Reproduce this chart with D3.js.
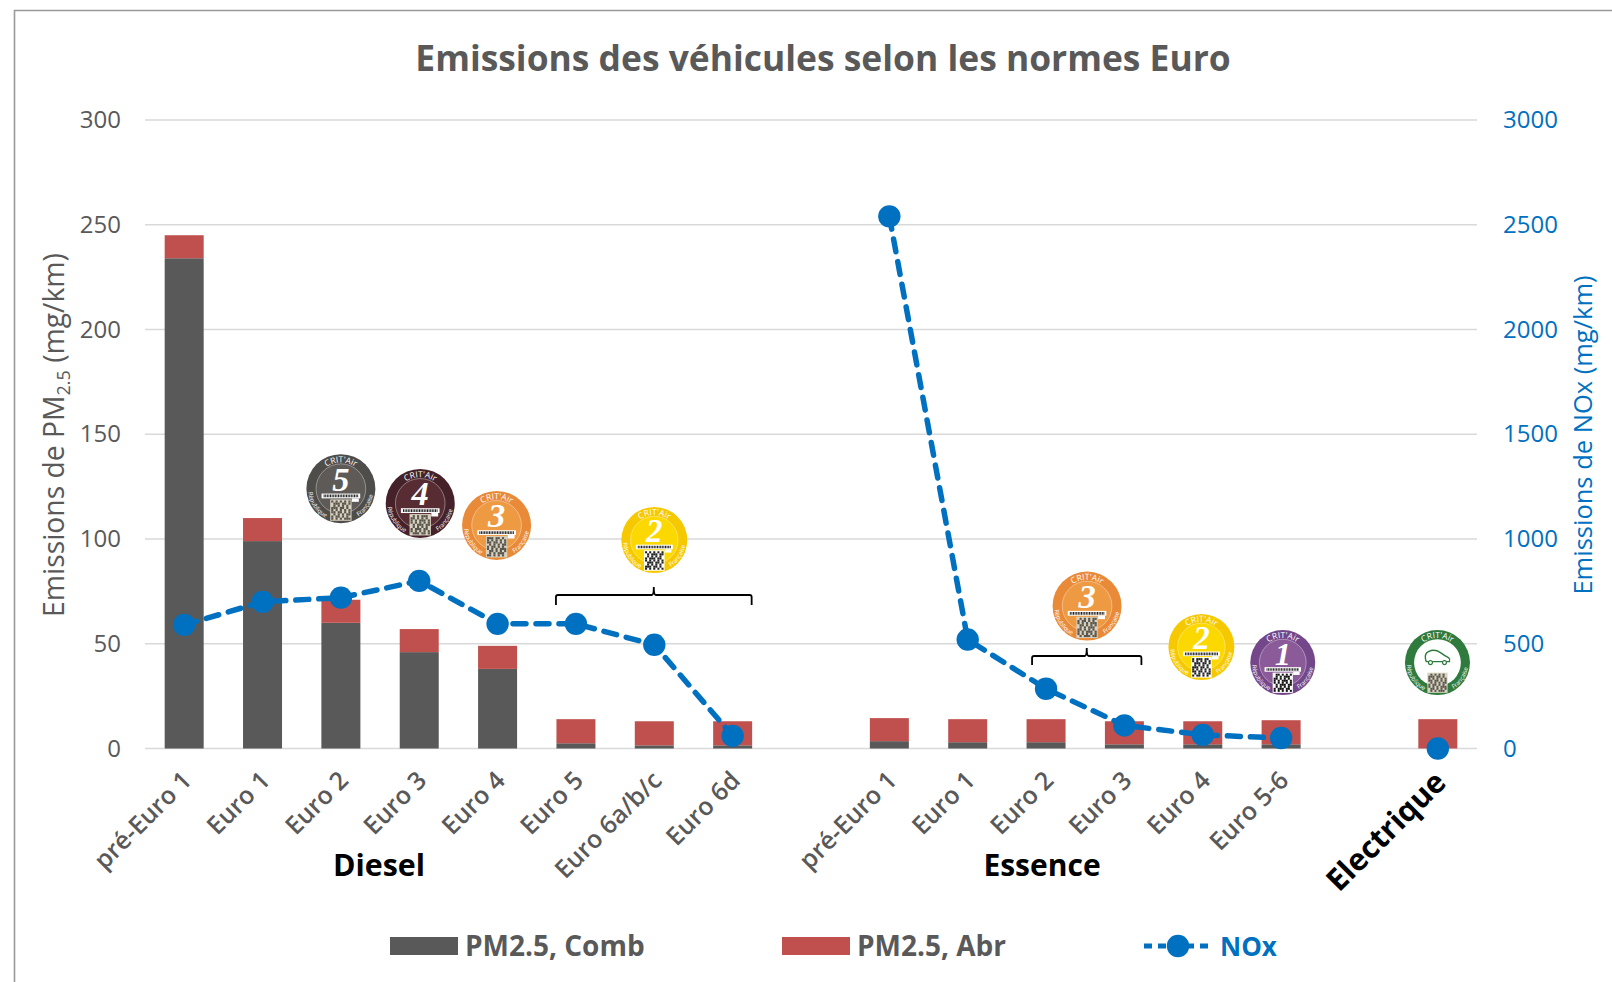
<!DOCTYPE html>
<html><head><meta charset="utf-8">
<script src="https://cdn.jsdelivr.net/npm/d3@7"></script>
<style>html,body{margin:0;padding:0;background:#fff}svg{display:block}text{font-family:"Open Sans",sans-serif}</style>
</head><body><svg id="c" width="1612" height="982"></svg>
<script>
const slots=["d0","d1","d2","d3","d4","d5","d6","d7","gap1","e0","e1","e2","e3","e4","e5","gap2","el"];
const tickLabels=["pré-Euro 1","Euro 1","Euro 2","Euro 3","Euro 4","Euro 5","Euro 6a/b/c","Euro 6d","","pré-Euro 1","Euro 1","Euro 2","Euro 3","Euro 4","Euro 5-6","",""];
const pmComb=[234,99,60,46,38,2.5,1.5,1.5,null,3.5,3,3,2,2,2,null,0];
const pmAbr=[11,11,11,11,11,11.5,11.5,11.5,null,11,11,11,11,11,11.5,null,14];
const nox=[590,700,720,800,595,595,495,60,null,2540,520,285,110,65,50,null,0];
const leftTicks=[0,50,100,150,200,250,300];
const rightTicks=[0,500,1000,1500,2000,2500,3000];
const badges=[
 {slot:"d2",dx:0,v:124,r:34.5,num:"5",c1:"#4f4d4a",c2:"#5d5a57",q:"#5a554c",qb:"#d8d2c0"},
 {slot:"d3",dx:1,v:117,r:34.5,num:"4",c1:"#45222a",c2:"#572d33",q:"#5a554c",qb:"#d8d2c0"},
 {slot:"d4",dx:-1,v:106.5,r:34.5,num:"3",c1:"#e98a38",c2:"#ee9a42",q:"#5a554c",qb:"#d8d2c0"},
 {slot:"d6",dx:0,v:99.5,r:33,num:"2",c1:"#f6c800",c2:"#fbd900",q:"#222",qb:"#fff"},
 {slot:"e2",dx:41,v:68,r:34.5,num:"3",c1:"#e98a38",c2:"#ee9a42",q:"#5a554c",qb:"#d8d2c0"},
 {slot:"e3",dx:77,v:48.5,r:33,num:"2",c1:"#f6c800",c2:"#fbd900",q:"#222",qb:"#fff"},
 {slot:"e4",dx:80,v:41,r:32.5,num:"1",c1:"#74478a",c2:"#8a5b98",q:"#111",qb:"#fff"},
 {slot:"gap2",dx:78,v:41,r:32.5,num:"",c1:"#2f7a3d",c2:"#ffffff",q:"#5a554c",qb:"#d8d2c0"}
];
const brackets=[{from:"d5",to:"d7",a:-20,b:19,v:[605,595,587]},{from:"e2",to:"e3",a:-14,b:17,v:[665,656,648]}];

const svg=d3.select("#c");
const grey="#595959",blue="#0070c0",red="#c0504d";
const x=d3.scaleBand().domain(slots).range([145,1477]).paddingInner(0).paddingOuter(0);
const yL=d3.scaleLinear().domain([0,300]).range([748.5,120]);
const yR=d3.scaleLinear().domain([0,3000]).range([748.5,120]);
const cx=s=>x(s)+x.bandwidth()/2;

svg.append("path").attr("d","M1612,10.5H14.5V982").attr("fill","none").attr("stroke","#999").attr("stroke-width",1.6);

svg.append("g").selectAll("line").data(leftTicks).join("line")
 .attr("x1",145).attr("x2",1477).attr("y1",d=>yL(d)).attr("y2",d=>yL(d))
 .attr("stroke","#d9d9d9").attr("stroke-width",1.6);

const rows=slots.map((s,i)=>({s,comb:pmComb[i],abr:pmAbr[i],nox:nox[i]}));
const bw=39;
const bars=rows.filter(d=>d.comb!==null);
svg.append("g").selectAll("rect").data(bars).join("rect")
 .attr("x",d=>cx(d.s)-bw/2).attr("width",bw).attr("y",d=>yL(d.comb)).attr("height",d=>yL(0)-yL(d.comb)).attr("fill",grey);
svg.append("g").selectAll("rect").data(bars).join("rect")
 .attr("x",d=>cx(d.s)-bw/2).attr("width",bw).attr("y",d=>yL(d.comb+d.abr)).attr("height",d=>yL(0)-yL(d.abr)).attr("fill",red);

const lbl=(sel,t,xp,yp,anchor,color,size)=>sel.append("text").attr("x",xp).attr("y",yp).attr("text-anchor",anchor).attr("fill",color).attr("font-size",size).text(t);
const axL=svg.append("g").attr("transform","translate(121,0)").call(d3.axisLeft(yL).tickValues(leftTicks).tickFormat(d3.format("d")).tickSize(0).tickPadding(0));
axL.select(".domain").remove();
axL.selectAll("text").attr("fill",grey).style("font-size","24px").style("font-family","Open Sans");
const axR=svg.append("g").attr("transform","translate(1477,0)").call(d3.axisRight(yR).tickValues(rightTicks).tickFormat(d3.format("d")).tickSize(0).tickPadding(26));
axR.select(".domain").remove();
axR.selectAll("text").attr("fill",blue).style("font-size","24px").style("font-family","Open Sans");

svg.append("g").selectAll("text").data(slots.map((s,i)=>({s,t:tickLabels[i]})).filter(d=>d.t)).join("text")
 .attr("transform",d=>`translate(${cx(d.s)+9},782) rotate(-45)`).attr("text-anchor","end")
 .attr("fill",grey).attr("font-size",25).attr("font-weight",600).text(d=>d.t);

lbl(svg,"Emissions des véhicules selon les normes Euro",823,71,"middle",grey,35.4).attr("font-weight",700);
const yt=svg.append("text").attr("transform","translate(64,435) rotate(-90)").attr("text-anchor","middle").attr("fill",grey).attr("font-size",28.3);
yt.append("tspan").text("Emissions de PM");
yt.append("tspan").attr("font-size",18).attr("dy",6).text("2.5");
yt.append("tspan").attr("dy",-6).text(" (mg/km)");
svg.append("text").attr("transform","translate(1592,435) rotate(-90)").attr("text-anchor","middle").attr("fill",blue).attr("font-size",25.5).text("Emissions de NOx (mg/km)");

lbl(svg,"Diesel",379,876,"middle","#000",30.4).attr("font-weight",700);
lbl(svg,"Essence",1042,876,"middle","#000",30).attr("font-weight",700);
svg.append("text").attr("transform",`translate(1339,893) rotate(-45)`).attr("fill","#000").attr("font-size",30.5).attr("font-weight",700).text("Electrique");

brackets.forEach(b=>{
 const x0=cx(b.from)+b.a,x1=cx(b.to)+b.b,m=(x0+x1)/2,v=b.v;
 svg.append("path").attr("fill","none").attr("stroke","#000").attr("stroke-width",1.8)
  .attr("d",`M${x0},${v[0]}V${v[1]+2}Q${x0},${v[1]} ${x0+2},${v[1]}H${m-2}Q${m},${v[1]} ${m},${v[2]}Q${m},${v[1]} ${m+2},${v[1]}H${x1-2}Q${x1},${v[1]} ${x1},${v[1]+2}V${v[0]}`);
});

badges.forEach((b,i)=>{
 const g=svg.append("g").attr("transform",`translate(${cx(b.slot)+b.dx},${yL(b.v)})`);
 const r=b.r;
 g.append("circle").attr("r",r).attr("fill",b.c1);
 g.append("circle").attr("r",r*0.72).attr("fill",b.c2).attr("stroke",b.num?"#ffffff77":"none").attr("stroke-width",0.8);
 g.append("path").attr("id","arc"+i).attr("fill","none").attr("d",`M${-r*.76},0A${r*.76},${r*.76} 0 0 1 ${r*.76},0`);
 const tp=(id,t,sz,off)=>g.append("text").attr("font-size",sz).attr("fill","#fff").attr("text-anchor","middle").append("textPath").attr("href","#"+id).attr("startOffset",off).text(t);
 tp("arc"+i,"CRIT'Air",8.5,"50%");
 g.append("path").attr("id","arcb"+i).attr("fill","none").attr("d",`M${-r*.95},0A${r*.95},${r*.95} 0 0 0 ${r*.95},0`);
 tp("arcb"+i,"République",6,"19%");
 tp("arcb"+i,"Française",6,"81%");
 if(b.num){
  g.append("text").attr("y",r*.06).attr("text-anchor","middle").attr("font-size",r*1.0).attr("font-weight",700).attr("font-style","italic").attr("fill","#fff").style("font-family","Liberation Serif").text(b.num);
  g.append("rect").attr("x",-r*.56).attr("y",r*.14).attr("width",r*1.12).attr("height",r*.14).attr("fill","#fff");
  g.append("rect").attr("x",r*.32).attr("y",r*.28).attr("width",r*.2).attr("height",r*.1).attr("fill","#fff");
  g.append("path").attr("stroke","#222").attr("stroke-width",r*.08).attr("stroke-dasharray","1,.6").attr("d",`M${-r*.5},${r*.21}H${r*.5}`);
 } else {
  g.append("path").attr("fill","none").attr("stroke",b.c1).attr("stroke-width",1.4)
   .attr("d",`M-12,-4Q-13,-9 -9,-11Q-3,-14 3,-10Q7,-7 11,-5Q13,-3 12,-1H-11Q-12,-2 -12,-4Z`);
  g.selectAll("circle.w").data([-7,7]).join("circle").attr("class","w").attr("cx",d=>d).attr("cy",0).attr("r",2).attr("fill","#fff").attr("stroke",b.c1).attr("stroke-width",1.2);
 }
 const q=r*.56,top=r*.34;
 g.append("rect").attr("x",-q/2-1).attr("y",top-1).attr("width",q+2).attr("height",q+2).attr("fill",b.qb);
 const n=9,c=q/n;
 d3.range(n*n).forEach(k=>{
  const on=[1,0,1,1,0,1,0,0,1,1,0,1,0,1,1,0,1][(k*7+i)%17];
  if(on) g.append("rect").attr("x",-q/2+(k%n)*c).attr("y",top+Math.floor(k/n)*c).attr("width",c).attr("height",c).attr("fill",b.q);
 });
});

const line=d3.line().defined(d=>d.nox!==null).x(d=>cx(d.s)).y(d=>yR(d.nox));
svg.append("path").datum(rows).attr("fill","none").attr("stroke",blue).attr("stroke-width",5.5).attr("stroke-dasharray","13,10").attr("stroke-linecap","round").attr("d",line);
svg.append("g").selectAll("circle").data(rows.filter(d=>d.nox!==null)).join("circle")
 .attr("cx",d=>cx(d.s)).attr("cy",d=>yR(d.nox)).attr("r",11.2).attr("fill",blue);

const ly=946;
svg.append("rect").attr("x",390).attr("y",937).attr("width",68).attr("height",18).attr("fill",grey);
lbl(svg,"PM2.5, Comb",465,956,"start",grey,28).attr("font-weight",700);
svg.append("rect").attr("x",782).attr("y",937).attr("width",68).attr("height",18).attr("fill",red);
lbl(svg,"PM2.5, Abr",857,956,"start",grey,28).attr("font-weight",700);
svg.append("line").attr("x1",1144).attr("x2",1212).attr("y1",ly).attr("y2",ly).attr("stroke",blue).attr("stroke-width",5).attr("stroke-dasharray","8,6");
svg.append("circle").attr("cx",1178).attr("cy",ly).attr("r",11.2).attr("fill",blue);
lbl(svg,"NOx",1220,956,"start",blue,26).attr("font-weight",700);
</script></body></html>
